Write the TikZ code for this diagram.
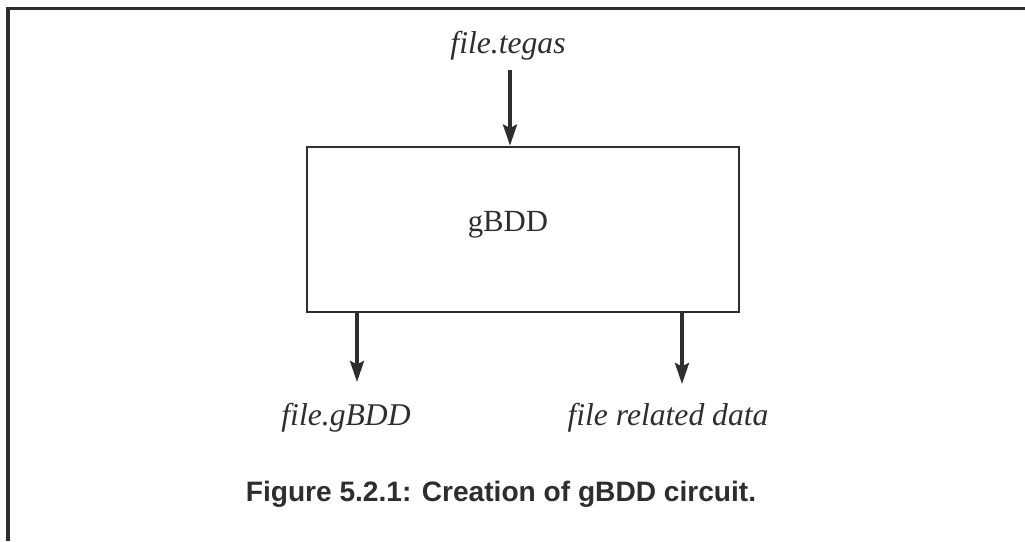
\documentclass[tikz,border=0pt]{standalone}
\usepackage{fontspec}
\setmainfont{Liberation Serif}
\newfontfamily\capfont{Liberation Sans}
\usepackage{tikz}
\usetikzlibrary{arrows.meta, positioning}
\definecolor{inkgray}{HTML}{2E2E2E}

\begin{document}
\begin{tikzpicture}[
    block/.style={draw=inkgray, line width=1.6pt, minimum width=8.64cm, minimum height=3.3cm},
    flabel/.style={font=\fontsize{18}{21}\selectfont\itshape, text=inkgray},
    flow/.style={draw=inkgray, line width=1.9pt, -{Stealth[length=12pt, width=8pt, inset=2pt]}},
]
    \useasboundingbox (0,0) rectangle (20.5,-10.82);

    % Outer frame
    \draw[inkgray, line width=1.8pt] (20.5,-0.17) -- (0.16,-0.17) -- (0.16,-10.82);

    % gBDD block
    \node[block] (gbdd) at (10.46,-4.59) {};
    \node[font=\fontsize{17.5}{20}\selectfont, text=inkgray] (gbddname) at (10.16,-4.5) {gBDD};

    % Input
    \node[flabel] (tegas) at (10.16,-0.92) {file.tegas};
    \coordinate (inA) at (10.2,-1.4);
    \draw[flow] (inA) -- (inA |- gbdd.north);

    % Outputs
    \node[flabel] (outgbdd) at (6.92,-8.36) {file.gBDD};
    \node[flabel] (outdata) at (13.36,-8.36) {file related data};
    \coordinate (endA) at (7.14,-7.64);
    \coordinate (endB) at (13.64,-7.68);
    \draw[flow] (endA |- gbdd.south) -- (endA);
    \draw[flow] (endB |- gbdd.south) -- (endB);

    % Caption
    \node[font=\fontsize{16}{19}\selectfont\capfont\bfseries, text=inkgray] (caption) at (10.02,-9.88)
        {Figure 5.2.1: Creation of gBDD circuit.};
\end{tikzpicture}
\end{document}
